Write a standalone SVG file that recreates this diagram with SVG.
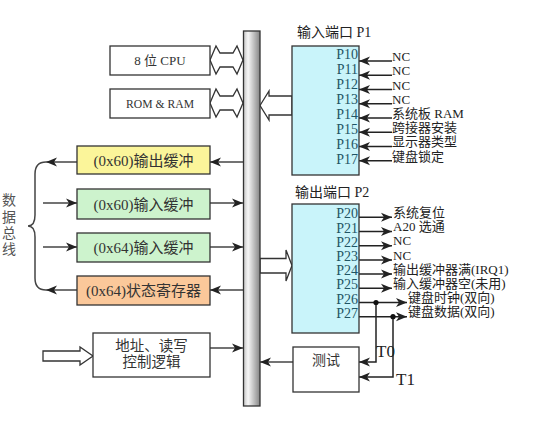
<svg xmlns="http://www.w3.org/2000/svg" width="535" height="421" viewBox="0 0 535 421">
<style>
.box{stroke:#333;stroke-width:1.3}
.serif{font-family:"Liberation Serif","Noto Sans CJK SC",serif}
.lbl{font-size:15px;fill:#333}
.pin{font-size:14px;fill:#1f5565;text-anchor:end}
.sig{font-size:13px;fill:#222}
.hollow{fill:#fff;stroke:#333;stroke-width:1.3;stroke-linejoin:miter}
.gl{stroke:#444;stroke-width:1.5;fill:none}
.bl{stroke:#222;stroke-width:1.5;fill:none}
</style>
<defs>
<linearGradient id="busg" x1="0" y1="0" x2="1" y2="0">
<stop offset="0" stop-color="#c4c4c4"/>
<stop offset="0.28" stop-color="#f6f6f6"/>
<stop offset="1" stop-color="#858585"/>
</linearGradient>
<marker id="ah" markerUnits="userSpaceOnUse" markerWidth="12" markerHeight="10" refX="11" refY="5" orient="auto">
<path d="M0,0.5 L11,5 L0,9.5 L3,5 z" fill="#222"/>
</marker>
</defs>
<rect width="535" height="421" fill="#fff"/>

<g id="connectors">
<polygon class="hollow" points="210,60 216,46 220,53 233,53 237,46 243,60 237,74 233,67 220,67 216,74"/>
<polygon class="hollow" points="210,103 216,89 220,96 233,96 237,89 243,103 237,117 233,110 220,110 216,117"/>
<polygon class="hollow" points="260,105.5 269,91 269,96 292,96 292,115 269,115 269,120"/>
<polygon class="hollow" points="260,258.5 286,258.5 286,250 292,265.5 286,281 286,273 260,273"/>
<polygon class="hollow" points="43,351 80,351 80,347 93,356 80,365 80,361 43,361"/>
<line class="gl" x1="243" y1="162" x2="210" y2="162" marker-end="url(#ah)"/>
<line class="gl" x1="210" y1="203" x2="243" y2="203" marker-end="url(#ah)"/>
<line class="gl" x1="210" y1="247" x2="243" y2="247" marker-end="url(#ah)"/>
<line class="gl" x1="243" y1="290" x2="210" y2="290" marker-end="url(#ah)"/>
<line class="gl" x1="77" y1="162" x2="46" y2="162" marker-end="url(#ah)"/>
<line class="gl" x1="43" y1="203" x2="77" y2="203" marker-end="url(#ah)"/>
<line class="gl" x1="43" y1="247" x2="77" y2="247" marker-end="url(#ah)"/>
<line class="gl" x1="77" y1="290" x2="46" y2="290" marker-end="url(#ah)"/>
<path class="gl" d="M46,162 Q35,162 35,174 L35,215 Q35,226 28,226 Q35,226 35,237 L35,278 Q35,290 46,290"/>
<line class="gl" x1="210" y1="348" x2="243" y2="348" marker-end="url(#ah)"/>
<line class="gl" x1="293" y1="362" x2="260" y2="362" marker-end="url(#ah)"/>
<line class="bl" x1="392" y1="61" x2="359" y2="61" marker-end="url(#ah)"/>
<line class="bl" x1="392" y1="75.2" x2="359" y2="75.2" marker-end="url(#ah)"/>
<line class="bl" x1="392" y1="89.5" x2="359" y2="89.5" marker-end="url(#ah)"/>
<line class="bl" x1="392" y1="103.7" x2="359" y2="103.7" marker-end="url(#ah)"/>
<line class="bl" x1="392" y1="118" x2="359" y2="118" marker-end="url(#ah)"/>
<line class="bl" x1="392" y1="132.2" x2="359" y2="132.2" marker-end="url(#ah)"/>
<line class="bl" x1="392" y1="146.4" x2="359" y2="146.4" marker-end="url(#ah)"/>
<line class="bl" x1="392" y1="160.7" x2="359" y2="160.7" marker-end="url(#ah)"/>
<line class="bl" x1="359" y1="217.3" x2="392" y2="217.3" marker-end="url(#ah)"/>
<line class="bl" x1="359" y1="231.5" x2="392" y2="231.5" marker-end="url(#ah)"/>
<line class="bl" x1="359" y1="245.7" x2="392" y2="245.7" marker-end="url(#ah)"/>
<line class="bl" x1="359" y1="259.9" x2="392" y2="259.9" marker-end="url(#ah)"/>
<line class="bl" x1="359" y1="274.1" x2="392" y2="274.1" marker-end="url(#ah)"/>
<line class="bl" x1="359" y1="288.3" x2="392" y2="288.3" marker-end="url(#ah)"/>
<line class="bl" x1="359" y1="302.5" x2="407" y2="302.5" marker-end="url(#ah)"/>
<line class="bl" x1="359" y1="316.7" x2="407" y2="316.7" marker-end="url(#ah)"/>
<polyline class="bl" points="376,302.5 376,362 359,362" marker-end="url(#ah)"/>
<polyline class="bl" points="393,316.7 393,377 359,377" marker-end="url(#ah)"/>
<circle cx="376" cy="302.5" r="2.6" fill="#111"/>
<circle cx="393" cy="316.7" r="2.6" fill="#111"/>
</g>

<g id="bus">
<rect x="243.5" y="31" width="16.5" height="375" fill="url(#busg)" stroke="#333" stroke-width="1.3"/>
</g>

<g id="cpu">
<rect class="box" x="110" y="46" width="100" height="29" fill="#fff"/>
<text class="serif" x="160" y="65" font-size="13" fill="#333" text-anchor="middle">8 位 CPU</text>
</g>
<g id="romram">
<rect class="box" x="110" y="89" width="100" height="29" fill="#fff"/>
<text class="serif" x="160" y="108" font-size="13.5" fill="#333" text-anchor="middle" textLength="68" lengthAdjust="spacingAndGlyphs">ROM &amp; RAM</text>
</g>

<g id="outbuf">
<rect class="box" x="77" y="146" width="133" height="28" fill="#fbf59a"/>
<text class="serif lbl" x="143.5" y="165.5" text-anchor="middle">(0x60)输出缓冲</text>
</g>
<g id="inbuf60">
<rect class="box" x="77" y="189" width="133" height="30" fill="#cdf3cd"/>
<text class="serif lbl" x="143.5" y="209.5" text-anchor="middle">(0x60)输入缓冲</text>
</g>
<g id="inbuf64">
<rect class="box" x="77" y="233" width="133" height="29" fill="#cdf3cd"/>
<text class="serif lbl" x="143.5" y="253" text-anchor="middle">(0x64)输入缓冲</text>
</g>
<g id="status">
<rect class="box" x="77" y="276" width="133" height="29" fill="#fbc89a"/>
<text class="serif lbl" x="143.5" y="296" text-anchor="middle">(0x64)状态寄存器</text>
</g>

<g id="databus-label" class="serif" font-size="14" fill="#555" text-anchor="middle">
<text x="9" y="205">数</text>
<text x="9" y="222">据</text>
<text x="9" y="238">总</text>
<text x="9" y="254">线</text>
</g>

<g id="addrctl">
<rect class="box" x="93" y="333" width="117" height="44" fill="#fff"/>
<text class="serif" x="151.5" y="351" font-size="14.5" fill="#333" text-anchor="middle">地址、读写</text>
<text class="serif" x="151.5" y="367" font-size="14.5" fill="#333" text-anchor="middle">控制逻辑</text>
</g>

<g id="p1">
<text class="serif" x="297" y="37" font-size="14" fill="#222">输入端口 P1</text>
<rect class="box" x="292" y="46" width="67" height="129" fill="#c9f4fa"/>
<text class="serif pin" x="358" y="59.3">P10</text>
<text class="serif pin" x="358" y="74.3">P11</text>
<text class="serif pin" x="358" y="89.2">P12</text>
<text class="serif pin" x="358" y="104.2">P13</text>
<text class="serif pin" x="358" y="119.1">P14</text>
<text class="serif pin" x="358" y="134.1">P15</text>
<text class="serif pin" x="358" y="149">P16</text>
<text class="serif pin" x="358" y="164">P17</text>
<text class="serif sig" x="392" y="61">NC</text>
<text class="serif sig" x="392" y="75.2">NC</text>
<text class="serif sig" x="392" y="89.5">NC</text>
<text class="serif sig" x="392" y="103.7">NC</text>
<text class="serif sig" x="392" y="118" font-size="14">系统板 RAM</text>
<text class="serif sig" x="392" y="132.2" font-size="14">跨接器安装</text>
<text class="serif sig" x="392" y="146.4" font-size="14">显示器类型</text>
<text class="serif sig" x="392" y="160.7" font-size="14">键盘锁定</text>
</g>

<g id="p2">
<text class="serif" x="295" y="197" font-size="14" fill="#222">输出端口 P2</text>
<rect class="box" x="292" y="204" width="67" height="129" fill="#c9f4fa"/>
<text class="serif pin" x="358" y="218.3">P20</text>
<text class="serif pin" x="358" y="232.5">P21</text>
<text class="serif pin" x="358" y="246.7">P22</text>
<text class="serif pin" x="358" y="260.9">P23</text>
<text class="serif pin" x="358" y="275.1">P24</text>
<text class="serif pin" x="358" y="289.3">P25</text>
<text class="serif pin" x="358" y="303.5">P26</text>
<text class="serif pin" x="358" y="317.7">P27</text>
<text class="serif sig" x="393" y="217" font-size="13">系统复位</text>
<text class="serif sig" x="393" y="231.2" font-size="13">A20 选通</text>
<text class="serif sig" x="393" y="245.4">NC</text>
<text class="serif sig" x="393" y="259.6">NC</text>
<text class="serif sig" x="393" y="273.8" font-size="14">输出缓冲器满(IRQ1)</text>
<text class="serif sig" x="393" y="288" font-size="14">输入缓冲器空(未用)</text>
<text class="serif sig" x="408" y="302.2" font-size="14">键盘时钟(双向)</text>
<text class="serif sig" x="408" y="316.4" font-size="14">键盘数据(双向)</text>
</g>

<g id="test">
<rect class="box" x="293" y="347" width="66" height="45" fill="#fff"/>
<text class="serif" x="326" y="365" font-size="14" fill="#333" text-anchor="middle">测试</text>
<text class="serif" x="376" y="357" font-size="17" fill="#222">T0</text>
<text class="serif" x="396" y="385" font-size="17" fill="#222">T1</text>
</g>
</svg>
